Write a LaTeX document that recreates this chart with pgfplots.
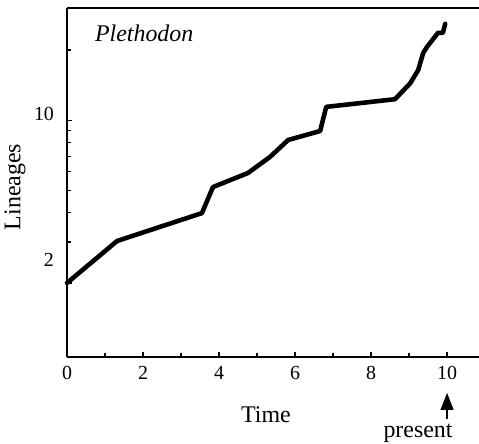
\documentclass[border=0pt]{standalone}
\usepackage{pgfplots}
\pgfplotsset{compat=1.18}
\usepackage{fontspec}
\setmainfont{Liberation Serif}
\usetikzlibrary{arrows.meta}
\begin{document}
\begin{tikzpicture}
\useasboundingbox (0,0) rectangle (239.5bp,222bp);
\begin{axis}[
  at={(33.5bp,43.5bp)}, anchor=south west,
  scale only axis, width=206bp, height=174.5bp,
  ymode=log,
  xmin=0, xmax=10.84, ymin=0.962, ymax=30.3,
  axis lines*=left,
  axis line style={line width=0.8pt,-},
  tick align=inside,
  tick style={black, line width=0.6pt},
  major tick length=2.5bp, minor tick length=1.8bp,
  xtick={0,2,4,6,8,10}, xticklabels={0,2,4,6,8,10},
  minor xtick={1,3,5,7,9},
  ytick={2,10}, yticklabels={\raisebox{11.5bp}[7bp][0bp]{2},\raisebox{3.5bp}[7bp][0bp]{10}},
  minor ytick={3,4,5,6,7,8,9,20},
  ticklabel style={font=\fontsize{10}{12}\selectfont},
  yticklabel style={xshift=-3bp},
  xticklabel style={yshift=-1.2bp},
  xlabel={Time}, ylabel={Lineages},
  label style={font=\fontsize{12}{14}\selectfont},
  xlabel style={at={(axis description cs:0.483,-0.166)}, anchor=center},
  ylabel style={at={(axis description cs:-0.126,0.487)}, anchor=center, rotate=0},
  clip=false,
]
\addplot[black, line width=2.3pt, line join=round, line cap=round] coordinates {
(0,2) (1.32,3.03) (3.55,3.99) (3.84,5.16) (4.76,5.93) (5.34,6.95)
(5.82,8.22) (6.66,8.98) (6.82,11.4) (8.63,12.3) (9.03,14.4) (9.24,16.4)
(9.37,19.4) (9.47,20.6) (9.76,23.7) (9.89,23.7) (9.95,25.9)
};
\draw[line width=0.8pt] (rel axis cs:0,1) -- (rel axis cs:1,1);
\node[anchor=west, font=\fontsize{12}{14}\selectfont\itshape] at (axis description cs:0.051,0.928) {Plethodon};
\node[anchor=center, font=\fontsize{12}{14}\selectfont] at (axis description cs:0.852,-0.218) {present};
\draw[line width=0.6pt, -{Triangle[length=8.5bp, width=6.5bp]}] (axis description cs:0.9225,-0.178) -- (axis description cs:0.9225,-0.103);
\end{axis}
\end{tikzpicture}
\end{document}
